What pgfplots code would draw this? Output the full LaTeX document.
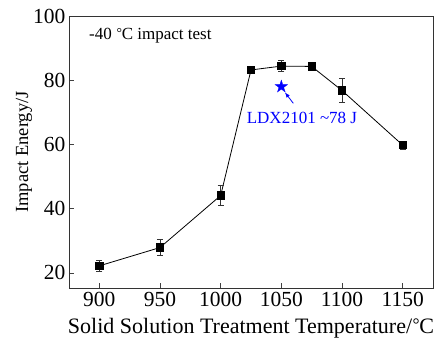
\documentclass[border=0pt]{standalone}
\usepackage{pgfplots}
\pgfplotsset{compat=1.18}
\usepackage{fontspec}
\setmainfont{Liberation Serif}
\newcommand{\degC}{\kern0.5pt{\fontsize{0.8em}{1em}\selectfont\raisebox{0.35ex}{°}}\kern-0.3pt C}

% filled five-pointed star
\pgfdeclareplotmark{fivestar}{%
  \pgfpathmoveto{\pgfpointpolar{90}{\pgfplotmarksize}}%
  \pgfpathlineto{\pgfpointpolar{126}{0.382\pgfplotmarksize}}%
  \pgfpathlineto{\pgfpointpolar{162}{\pgfplotmarksize}}%
  \pgfpathlineto{\pgfpointpolar{198}{0.382\pgfplotmarksize}}%
  \pgfpathlineto{\pgfpointpolar{234}{\pgfplotmarksize}}%
  \pgfpathlineto{\pgfpointpolar{270}{0.382\pgfplotmarksize}}%
  \pgfpathlineto{\pgfpointpolar{306}{\pgfplotmarksize}}%
  \pgfpathlineto{\pgfpointpolar{342}{0.382\pgfplotmarksize}}%
  \pgfpathlineto{\pgfpointpolar{18}{\pgfplotmarksize}}%
  \pgfpathlineto{\pgfpointpolar{54}{0.382\pgfplotmarksize}}%
  \pgfpathclose
  \pgfusepathqfillstroke
}

% impact energy vs. solution temperature: T, mean, error
\pgfplotstableread{
T     E     err
900   22.2  1.7
950   27.9  2.6
1000  44.1  3.0
1025  83.2  1.0
1050  84.4  1.8
1075  84.3  1.3
1100  76.8  3.7
1150  59.8  1.3
}\impact

\begin{document}
\begin{tikzpicture}
\begin{axis}[
  name=main,
  scale only axis,
  width=364pt, height=272pt,
  xmin=875, xmax=1175,
  ymin=15.3, ymax=100,
  xtick={900,950,1000,1050,1100,1150},
  ytick={20,40,60,80,100},
  xtick pos=left, ytick pos=left,
  tick align=inside,
  major tick length=5pt,
  tick style={black!75, line width=0.8pt},
  axis line style={black!80, line width=0.9pt},
  /pgf/number format/assume math mode=true,
  /pgf/number format/1000 sep={},
  ticklabel style={font=\fontsize{21.5}{23}\selectfont},
  xticklabel style={yshift=-1pt},
  xlabel={Solid Solution Treatment Temperature/\degC},
  ylabel={Impact Energy/J},
  xlabel style={font=\fontsize{22}{24}\selectfont, at={(axis description cs:0.5,0)}, anchor=center, yshift=-40pt},
  ylabel style={font=\fontsize{18.5}{20}\selectfont, at={(axis description cs:0,0.5)}, anchor=center, yshift=45pt},
  clip=false,
]
\addplot[black, line width=0.8pt, mark=square*, mark size=3.7pt,
  mark options={solid, fill=black},
  error bars/.cd, y dir=both, y explicit,
  error bar style={black!80, line width=0.8pt},
  error mark options={rotate=90, mark size=3pt, black!80, line width=0.8pt}]
  table[x=T, y=E, y error=err]{\impact};

% reference value for LDX2101
\addplot[only marks, mark=fivestar, mark size=6.5pt, blue, line width=0.3pt,
  mark options={fill=blue, draw=blue}] coordinates {(1050,78)};
\draw[-latex, blue, line width=0.8pt] (axis cs:1059.9,72.8) -- (axis cs:1053.0,76.2);
\node[blue, font=\fontsize{17}{19}\selectfont, anchor=center, inner sep=0pt] at (axis cs:1067,68.2) {LDX2101 \textasciitilde78 J};

\node[font=\fontsize{17}{19}\selectfont, anchor=west, inner sep=0pt] at (axis cs:891.5,93.8) {-40 \degC\ impact test};
\end{axis}
\pgfresetboundingbox
\path ([xshift=-69pt,yshift=-51pt]main.south west) rectangle ([xshift=6pt,yshift=16pt]main.north east);
\end{tikzpicture}
\end{document}
